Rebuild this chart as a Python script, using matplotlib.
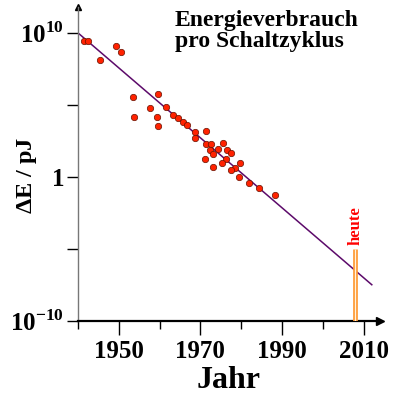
import matplotlib
matplotlib.use("Agg")
import matplotlib.pyplot as plt
import numpy as np

# data (year, log10 of energy in pJ)
years = [1941.5, 1942.4, 1949.4, 1950.6, 1945.5, 1953.5, 1959.5, 1957.6, 1961.5,
         1953.7, 1959.3, 1959.7, 1963.4, 1964.5, 1965.7, 1966.8, 1968.6, 1968.7,
         1971.4, 1971.3, 1972.6, 1975.5, 1972.4, 1974.4, 1976.4, 1973.1, 1977.5,
         1971.2, 1976.2, 1975.4, 1979.6, 1973.2, 1978.5, 1977.5, 1979.4, 1981.9,
         1984.4, 1988.3]
log_energy = [9.42, 9.42, 9.12, 8.68, 8.09, 5.57, 5.76, 4.78, 4.87,
              4.15, 4.15, 3.50, 4.28, 4.07, 3.83, 3.62, 3.10, 2.71,
              3.20, 2.28, 2.30, 2.32, 1.88, 1.95, 1.88, 1.60, 1.62,
              1.27, 1.25, 0.97, 0.96, 0.70, 0.59, 0.47, -0.03, -0.42,
              -0.81, -1.27]

trend_years = [1940, 2012]
trend_log = [10.0, -7.5]

heute_year = 2008
heute_log = [-10, -5]

plt.rcParams['font.family'] = ['Liberation Serif', 'DejaVu Serif']
plt.rcParams['font.weight'] = 'bold'
plt.rcParams['mathtext.fontset'] = 'custom'
plt.rcParams['mathtext.rm'] = 'Liberation Serif:bold'
plt.rcParams['mathtext.bf'] = 'Liberation Serif:bold'

fig = plt.figure(figsize=(4.04, 3.99), dpi=100)
ax = fig.add_axes([0.193, 0.1962, 0.7475, 0.7863])

energy = 10.0 ** np.array(log_energy)

# trend line
ax.plot(trend_years, 10.0 ** np.array(trend_log), color='#5c0a6a', lw=1.1, zorder=2)

# data points
ax.plot(years, energy, 'o', ms=4.6, mfc='#ff2200', mec='#661100', mew=0.5, zorder=3)

# "heute" marker
ax.vlines(heute_year, 10.0 ** heute_log[0], 10.0 ** heute_log[1], color='#ff9933', lw=3.4, zorder=4)
ax.vlines(heute_year, 10.0 ** heute_log[0], 10.0 ** heute_log[1], color='#fff4e0', lw=0.9, zorder=5)
ax.text(heute_year, 10.0 ** (heute_log[1] + 0.25), 'heute', rotation=90, color='red',
        fontsize=12, fontweight='bold', ha='center', va='bottom')

ax.set_yscale('log')
ax.set_xlim(1940, 2014)
ax.set_ylim(1e-10, 10.0 ** 11.8)

# spines and arrows
for s in ['top', 'right']:
    ax.spines[s].set_visible(False)
ax.spines['left'].set_color('#777777')
ax.spines['left'].set_linewidth(1.0)
ax.spines['bottom'].set_color('black')
ax.spines['bottom'].set_linewidth(1.6)
ax.plot(1, 0, '>k', ms=6, transform=ax.transAxes, clip_on=False)
ax.plot(0, 1, '^k', ms=5, transform=ax.transAxes, clip_on=False)

# ticks
ax.set_yticks([1e-10, 1, 1e10])
ax.set_yticklabels([r'$10^{-10}$', '1', r'$10^{10}$'])
ax.set_yticks([1e-5, 1e5], minor=True)
ax.yaxis.set_minor_formatter(matplotlib.ticker.NullFormatter())
ax.tick_params(axis='y', which='both', length=8, width=1.0, color='black', labelsize=18, pad=2)

ax.set_xticks([1950, 1970, 1990, 2010])
ax.set_xticks([1940, 1960, 1980, 2000], minor=True)
ax.tick_params(axis='x', which='major', length=10, width=1.0, labelsize=18, pad=4)
ax.tick_params(axis='x', which='minor', length=6, width=1.0)

ax.set_xlabel('Jahr', fontsize=23, fontweight='bold', labelpad=2)
fig.text(0.067, 0.561, r'$\Delta$E / pJ', fontsize=17.5, fontweight='bold',
         rotation=90, ha='center', va='center')

fig.text(0.433, 0.975, 'Energieverbrauch\npro Schaltzyklus', fontsize=17,
         fontweight='bold', ha='left', va='top', linespacing=1.0)

fig.savefig('out.png', dpi=100)
